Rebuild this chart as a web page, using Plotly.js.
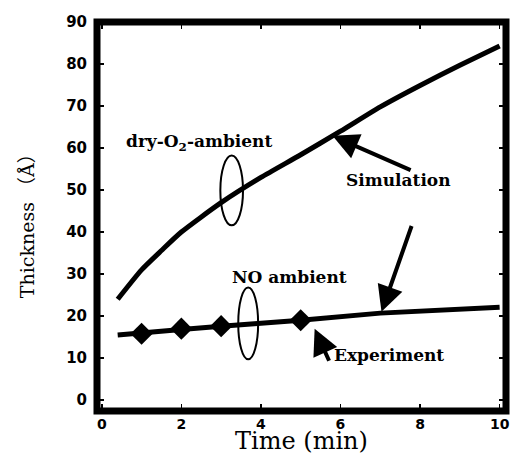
<!DOCTYPE html>
<html>
<head>
<meta charset="utf-8">
<script src="https://cdn.plot.ly/plotly-3.0.1.min.js"></script>
<style>html,body{margin:0;padding:0;background:#fff;}#chart{width:510px;height:455px;}</style>
</head>
<body>
<div id="chart"></div>
<script>
// Simulation, dry-O2 ambient
const dryTime = [0.4, 1, 1.5, 2, 3, 4, 5, 6, 7, 8, 9, 10];
const dryThickness = [24.0, 31.0, 35.6, 40.0, 47.0, 53.0, 58.4, 64.0, 69.8, 74.9, 79.7, 84.3];
// Simulation, NO ambient
const noSimTime = [0.4, 1, 2, 3, 5, 7, 10];
const noSimThickness = [15.5, 15.9, 16.8, 17.6, 19.0, 20.7, 22.1];
// Experiment, NO ambient
const expTime = [1, 2, 3, 5];
const expThickness = [15.8, 17.0, 17.6, 19.0];
// Tick labels
const xTicks = [0, 2, 4, 6, 8, 10];
const xTickText = ['0', '2', '4', '6', '8', '10'];
const yTicks = [0, 10, 20, 30, 40, 50, 60, 70, 80, 90];
const yTickText = ['0', '10', '20', '30', '40', '50', '60', '70', '80', '90'];

const serif = '"DejaVu Serif", "Noto Sans CJK JP", serif';
const cjk = s => '<span style="font-family:Noto Sans CJK JP">' + s + '</span>';
const tickFontX = {family: '"DejaVu Sans", sans-serif', size: 14, color: '#000', weight: 700};
const tickFontY = {family: '"DejaVu Sans", sans-serif', size: 15, color: '#000', weight: 700};

const traces = [
  {x: dryTime, y: dryThickness, mode: 'lines', line: {color: '#000', width: 5, shape: 'spline', smoothing: 0.6}, showlegend: false},
  {x: noSimTime, y: noSimThickness, mode: 'lines', line: {color: '#000', width: 5}, showlegend: false},
  {x: expTime, y: expThickness, mode: 'markers', marker: {symbol: 'diamond', size: 17, color: '#000'}, showlegend: false}
];

const annFont = {family: serif, size: 17, color: '#000', weight: 'bold'};
const arrow = {text: '', showarrow: true, arrowhead: 2, arrowsize: 1.3, arrowwidth: 4, arrowcolor: '#000', axref: 'x', ayref: 'y', xref: 'x', yref: 'y'};

const layout = {
  width: 510, height: 455,
  margin: {l: 97, r: 4, t: 22, b: 44},
  paper_bgcolor: '#fff', plot_bgcolor: '#fff',
  xaxis: {
    range: [-0.12, 10.16], tickvals: xTicks, ticktext: xTickText, ticks: 'inside', ticklen: 7, tickwidth: 1.5, tickcolor: '#000',
    showline: false, mirror: 'ticks', showgrid: false, zeroline: false,
    tickfont: tickFontX, ticklabeloverflow: 'allow', ticklabelstandoff: 3,
    title: {text: 'Time (min)', font: {family: serif, size: 24, color: '#000'}, standoff: 0}
  },
  yaxis: {
    range: [-2.6, 90], tickvals: yTicks, ticktext: yTickText, ticks: 'inside', ticklen: 7, tickwidth: 1.5, tickcolor: '#000',
    showline: false, mirror: 'ticks', showgrid: false, zeroline: false,
    tickfont: tickFontY, ticklabeloverflow: 'allow', ticklabelstandoff: 9,
    title: {text: 'Thickness ' + cjk('（') + 'Å' + cjk('）　'), font: {family: serif, size: 19, color: '#000'}, standoff: 26}
  },
  annotations: [
    {x: 2.45, y: 61.3, xref: 'x', yref: 'y', text: 'dry-O<sub>2</sub>-ambient', showarrow: false, font: annFont},
    {x: 4.72, y: 29.2, xref: 'x', yref: 'y', text: 'NO ambient', showarrow: false, font: annFont},
    {x: 7.45, y: 52.3, xref: 'x', yref: 'y', text: 'Simulation', showarrow: false, font: annFont},
    {x: 7.22, y: 10.7, xref: 'x', yref: 'y', text: 'Experiment', showarrow: false, font: annFont},
    Object.assign({x: 5.8, y: 62.9, ax: 7.8, ay: 54.6}, arrow),
    Object.assign({x: 7.03, y: 21.0, ax: 7.8, ay: 41.8}, arrow),
    Object.assign({x: 5.35, y: 17.0, ax: 5.73, ay: 9.0}, arrow)
  ],
  shapes: [
    {type: 'rect', xref: 'paper', yref: 'paper', x0: 0, x1: 1, y0: 0, y1: 1, line: {color: '#000', width: 7}},
    {type: 'circle', xref: 'x', yref: 'y', x0: 2.98, x1: 3.55, y0: 41.6, y1: 58.2, line: {color: '#000', width: 2}},
    {type: 'circle', xref: 'x', yref: 'y', x0: 3.43, x1: 3.93, y0: 9.7, y1: 26.8, line: {color: '#000', width: 2}}
  ]
};

Plotly.newPlot('chart', traces, layout, {displayModeBar: false, staticPlot: true});
</script>
</body>
</html>
